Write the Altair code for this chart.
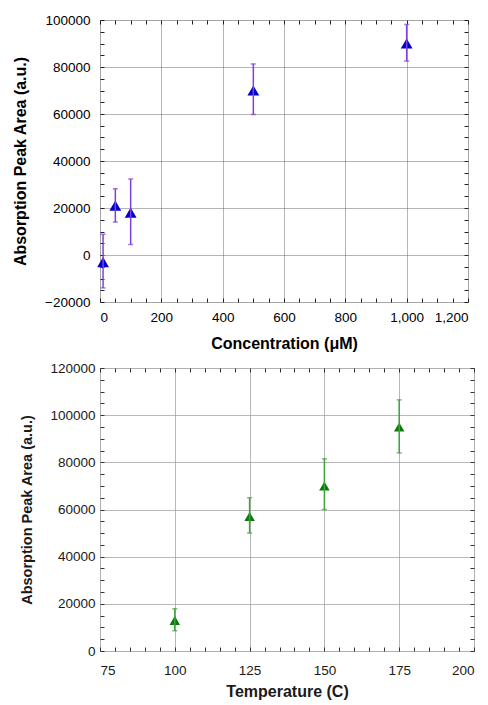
import altair as alt
import pandas as pd

# ---- Top panel data (concentration series) ----
conc = [10, 50, 100, 500, 1000]
area1 = [-3000, 21000, 18000, 70000, 90000]
lo1 = [-14000, 14000, 4500, 59800, 82500]
hi1 = [8800, 28200, 32300, 81300, 98100]

# ---- Bottom panel data (temperature series) ----
temp = [100, 125, 150, 175]
area2 = [13000, 57000, 70000, 95000]
lo2 = [8600, 50000, 60000, 84000]
hi2 = [17900, 65000, 81500, 106500]

# ---- Tick values ----
x1_major = [0, 200, 400, 600, 800, 1000, 1200]
y1_major = [-20000, 0, 20000, 40000, 60000, 80000, 100000]
x1_minor = list(range(0, 1201, 50))
y1_minor = list(range(-20000, 100001, 5000))

x2_major = [75, 100, 125, 150, 175, 200]
y2_major = [0, 20000, 40000, 60000, 80000, 100000, 120000]
x2_minor = list(range(75, 201, 5))
y2_minor = list(range(0, 120001, 5000))

FONT = "Liberation Sans"


def minor_axis(orient, values, color):
    return alt.Axis(orient=orient, values=values, labels=False, title=None,
                    grid=False, domain=False, ticks=True, tickSize=4,
                    tickColor=color, tickWidth=1, offset=-4)


def panel(xs, ys, los, his, xname, xdom, ydom, xmaj, ymaj, xmin, ymin,
          mark_color, err_color, grid_color, grid_dash, width, height,
          xfmt, label_pad_x, label_pad_y, title_pad_x, title_pad_y,
          xtitle_size, ytitle_size, label_color, size, tick_color):
    df = pd.DataFrame({"x": xs, "y": ys, "lo": los, "hi": his})
    xsc = alt.Scale(domain=xdom, nice=False, zero=False)
    ysc = alt.Scale(domain=ydom, nice=False, zero=False)
    base = alt.Chart(df)

    main_x = alt.Axis(orient="bottom", values=xmaj, format=xfmt, ticks=False,
                      domain=False, grid=True, gridColor=grid_color,
                      gridDash=grid_dash, gridWidth=1, labelFont=FONT,
                      labelFontSize=13.5, labelColor=label_color,
                      labelPadding=label_pad_x, title=xname, titleFont=FONT,
                      titleFontSize=xtitle_size, titleFontWeight="bold",
                      titleColor=label_color, titlePadding=title_pad_x)
    main_y = alt.Axis(orient="left", values=ymaj, format="d", ticks=False,
                      domain=False, grid=True, gridColor=grid_color,
                      gridDash=grid_dash, gridWidth=1, labelFont=FONT,
                      labelFontSize=13.5, labelColor=label_color,
                      labelPadding=label_pad_y,
                      title="Absorption Peak Area (a.u.)", titleFont=FONT,
                      titleFontSize=ytitle_size, titleFontWeight="bold",
                      titleColor=label_color, titlePadding=title_pad_y)

    rules = base.mark_rule(color=err_color, strokeWidth=1.5).encode(
        x=alt.X("x:Q", scale=xsc, axis=minor_axis("bottom", xmin, tick_color)),
        y=alt.Y("lo:Q", scale=ysc, axis=minor_axis("left", ymin, tick_color)),
        y2="hi:Q",
    )
    cap_lo = base.mark_tick(color=err_color, thickness=1.5, size=5,
                            orient="horizontal").encode(
        x=alt.X("x:Q", scale=xsc, axis=minor_axis("top", xmin, tick_color)),
        y=alt.Y("lo:Q", scale=ysc, axis=minor_axis("right", ymin, tick_color)),
    )
    cap_hi = base.mark_tick(color=err_color, thickness=1.5, size=5,
                            orient="horizontal").encode(
        x=alt.X("x:Q", scale=xsc, axis=None),
        y=alt.Y("hi:Q", scale=ysc, axis=None),
    )
    pts = base.mark_point(shape="triangle-up", filled=True, opacity=1,
                          color=mark_color, size=size).encode(
        x=alt.X("x:Q", scale=xsc, axis=main_x),
        y=alt.Y("y:Q", scale=ysc, axis=main_y),
    )
    return alt.layer(pts, rules, cap_lo, cap_hi).resolve_axis(
        x="independent", y="independent"
    ).properties(width=width, height=height)


top = panel(conc, area1, lo1, hi1, "Concentration (\u03bcM)", [0, 1200],
            [-20000, 100000], x1_major, y1_major, x1_minor, y1_minor,
            "#0000C8", "#8040E0", "#6a6a6a", [1, 1], 368, 282, ",d",
            8, 10, 12, 16, 16, 16, "#000000", 140, "#222222")
bottom = panel(temp, area2, lo2, hi2, "Temperature (C)", [75, 200],
               [0, 120000], x2_major, y2_major, x2_minor, y2_minor,
               "#0A7A0A", "#3FA03F", "#A0A0A0", [1, 0], 374, 283, "d",
               12, 5, 7, 15, 16, 14.5, "#1a1a1a", 110, "#333333")

chart = alt.vconcat(top, bottom, spacing=8).properties(
    padding={"left": 4, "top": 4, "right": 0, "bottom": 0}
).configure_view(stroke="#111111", strokeWidth=1.2, fill="white").configure(
    background="white"
)

chart.save("out.html", embed_options={"renderer": "svg", "actions": False})
